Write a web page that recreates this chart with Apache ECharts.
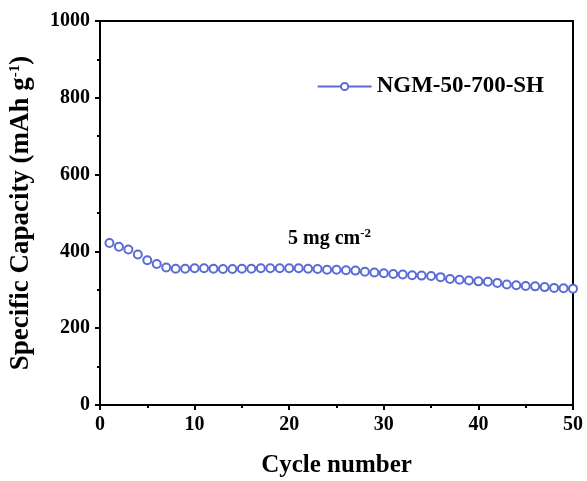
<!DOCTYPE html>
<html>
<head>
<meta charset="utf-8">
<script src="https://cdn.jsdelivr.net/npm/echarts@6/dist/echarts.min.js"></script>
<style>
  html,body{margin:0;padding:0;background:#fff;}
  #chart{width:587px;height:481px;}
</style>
</head>
<body>
<div id="chart"></div>
<script>
// cycle numbers 1..50
const cycles = [1,2,3,4,5,6,7,8,9,10,11,12,13,14,15,16,17,18,19,20,21,22,23,24,25,26,27,28,29,30,31,32,33,34,35,36,37,38,39,40,41,42,43,44,45,46,47,48,49,50]
// specific capacity, mAh g-1
const capacity = [422,412,405,392,377,367,358,355,355,356,356,355,354,354,355,355,356,356,356,356,356,355,354,352,352,351,350,347,345,343,341,340,338,337,336,333,328,326,324,322,321,318,314,312,310,309,307,305,304,303]
const seriesName = 'NGM-50-700-SH'

const font = 'Liberation Serif'
const blue = '#5b6bd6'

const chart = echarts.init(document.getElementById('chart'))
const option = {
  animation:false,
  textStyle:{fontFamily:font},
  grid:{
    left:100,
    right:14,
    top:21,
    bottom:76,
    outerBoundsMode:'none',
    show:true,
    borderColor:'#000',
    borderWidth:2,
  },
  legend:{
    top:70,
    right:38,
    itemWidth:54,
    itemHeight:9,
    itemGap:6,
    lineStyle:{width:2,color:blue},
    textStyle:{fontFamily:font,fontSize:23,fontWeight:'bold',color:'#000'},
    data:[seriesName]
  },
  xAxis:{
    type:'value',
    min:0,
    max:50,
    interval:10,
    name:'Cycle number',
    nameLocation:'middle',
    nameGap:48,
    nameTextStyle:{fontFamily:font,fontSize:25,fontWeight:'bold',color:'#000'},
    axisLine:{lineStyle:{color:'#000',width:2}},
    axisTick:{inside:false,length:5,lineStyle:{color:'#000',width:2}},
    minorTick:{show:true,splitNumber:2,length:3,lineStyle:{color:'#000',width:2}},
    axisLabel:{fontFamily:font,fontSize:20,fontWeight:'bold',color:'#000',margin:10},
    splitLine:{show:false}
  },
  yAxis:{
    type:'value',
    min:0,
    max:1000,
    interval:200,
    name:'{n|Specific Capacity (mAh g}{s|-1}{n|)}',
    nameLocation:'middle',
    nameGap:65,
    nameRotate:90,
    nameTextStyle:{
      rich:{
        n:{fontFamily:font,fontSize:27,fontWeight:'bold',color:'#000'},
        s:{fontFamily:font,fontSize:15,fontWeight:'bold',color:'#000',verticalAlign:'top',padding:[0,0,12,0]}
      }
    },
    axisLine:{show:true,lineStyle:{color:'#000',width:2}},
    axisTick:{show:true,inside:false,length:5,lineStyle:{color:'#000',width:2}},
    minorTick:{show:true,splitNumber:2,length:3,lineStyle:{color:'#000',width:2}},
    axisLabel:{fontFamily:font,fontSize:20,fontWeight:'bold',color:'#000',margin:10,formatter:v=>String(v)},
    splitLine:{show:false}
  },
  graphic:[
    {
      type:'text',
      left:288,
      top:227,
      style:{
        text:'{n|5 mg cm}{s|-2}',
        rich:{
          n:{fontFamily:font,fontSize:20,fontWeight:'bold',fill:'#000'},
          s:{fontFamily:font,fontSize:13,fontWeight:'bold',fill:'#000',verticalAlign:'top',padding:[0,0,10,0]}
        }
      }
    }
  ],
  series:[
    {
      name:seriesName,
      type:'line',
      data:cycles.map((c,i)=>[c,capacity[i]]),
      symbol:'circle',
      symbolSize:8,
      lineStyle:{width:0,color:blue},
      itemStyle:{color:'#fff',borderColor:blue,borderWidth:2},
      clip:false
    }
  ]
}
chart.setOption(option)
</script>
</body>
</html>
